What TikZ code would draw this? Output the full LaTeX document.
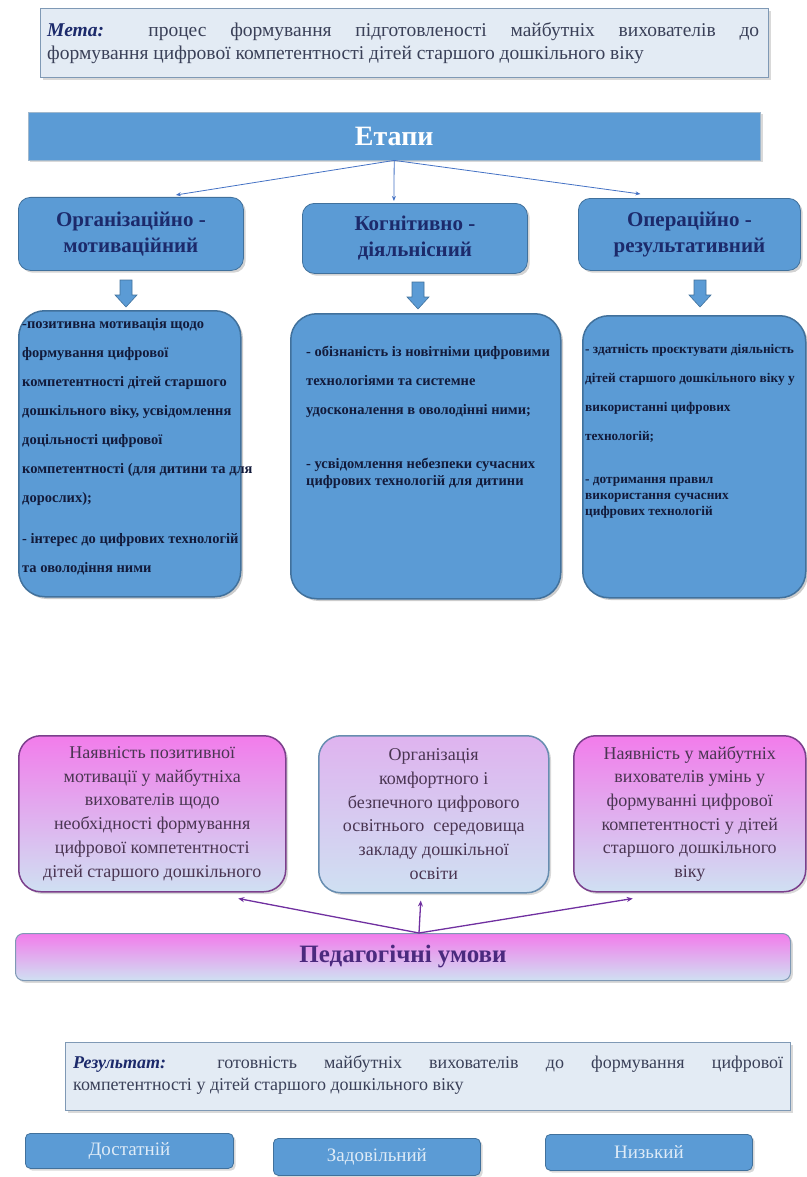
\documentclass[tikz,border=0pt]{standalone}
\usepackage{fontspec}
\setmainfont{Liberation Serif}
\usetikzlibrary{shadows,arrows.meta}
\definecolor{barblue}{HTML}{5B9BD5}
\definecolor{edgeblue}{HTML}{41719C}
\definecolor{inkblue}{HTML}{1C2A6B}
\definecolor{boxink}{HTML}{121A3A}
\definecolor{goalfill}{HTML}{E3EBF4}
\definecolor{goaledge}{HTML}{7F99B5}
\definecolor{goalink}{HTML}{3A4058}
\definecolor{pinktop}{HTML}{F27CEB}
\definecolor{lavmid}{HTML}{DCD4F0}
\definecolor{condlow}{HTML}{CFE0F2}
\definecolor{condedge}{HTML}{7B3F8C}
\definecolor{condink}{HTML}{4B2A7E}
\definecolor{condtext}{HTML}{4A3552}
\definecolor{linkblue}{HTML}{4472C4}
\definecolor{linkviolet}{HTML}{7030A0}

\begin{document}
\begin{tikzpicture}[x=1pt,y=-1pt,
	every node/.style={inner sep=0pt},
	goalbox/.style={draw=goaledge,line width=1.4pt,fill=goalfill,anchor=north west,drop shadow={opacity=.3}},
	stagebar/.style={fill=barblue,draw=edgeblue!50,anchor=north west,drop shadow={opacity=.3}},
	stagebox/.style={fill=barblue,draw=edgeblue,line width=.8pt,rounded corners=12pt,anchor=north west,text=inkblue,font=\fontsize{21}{26}\selectfont\bfseries,align=center,drop shadow={opacity=.35}},
	bigbox/.style={fill=barblue,draw=edgeblue,line width=1.5pt,rounded corners=26pt,anchor=north west,drop shadow={opacity=.4}},
	boxtext/.style={anchor=north west,align=left,text=boxink,font=\fontsize{14.5}{29}\selectfont\bfseries},
	downarrow/.style={fill=barblue,draw=edgeblue,line width=.6pt},
	condbox/.style={top color=pinktop,middle color=lavmid,bottom color=condlow,draw=condedge,line width=1.5pt,rounded corners=22pt,anchor=north west,text=condtext,align=center,font=\fontsize{18}{23.7}\selectfont,drop shadow={opacity=.3}},
	levelbox/.style={fill=barblue,draw=edgeblue,line width=.8pt,rounded corners=5pt,anchor=north west,text=white!80!barblue,font=\fontsize{19}{22}\selectfont,drop shadow={opacity=.3}},
	stagelink/.style={draw=linkblue,line width=.8pt,-{Stealth[length=5pt,width=4pt]}},
	condlink/.style={draw=linkviolet,line width=1.3pt,-{Stealth[length=6pt,width=5pt]}}]
	\useasboundingbox (0,0) rectangle (806,1177);

	% goal
	\node[goalbox,minimum width=728pt,minimum height=69pt] (goal) at (40,8) {};
	\node[anchor=north west,text width=712pt,align=justify,text=goalink,font=\fontsize{19.5}{23}\selectfont] (goaltext) at (47,22)
		{\textcolor{inkblue}{\textbf{\textit{Мета:}}} процес формування підготовленості майбутніх вихователів до\linebreak формування цифрової компетентності дітей старшого дошкільного віку};

	% stages
	\node[stagebar,minimum width=732pt,minimum height=48pt,text=white,font=\fontsize{28}{32}\selectfont\bfseries] (etapy) at (28,112) {Етапи};
	\node[stagebox,minimum width=225pt,minimum height=73pt] (s1) at (18,197) {Організаційно -\\мотиваційний};
	\node[stagebox,minimum width=225pt,minimum height=70pt] (s2) at (302,203) {Когнітивно -\\діяльнісний};
	\node[stagebox,minimum width=222pt,minimum height=72pt] (s3) at (578,198) {Операційно -\\результативний};
	\draw[stagelink] (etapy.south) -- ([xshift=45pt,yshift=2pt]s1.north);
	\draw[stagelink] (etapy.south) -- ([xshift=-21pt,yshift=2pt]s2.north);
	\draw[stagelink] (etapy.south) -- ([xshift=-49pt,yshift=4pt]s3.north);

	% block arrows down
	\coordinate (a1) at (126,280);
	\coordinate (a2) at (418,282);
	\coordinate (a3) at (700,280);
	\foreach \a in {a1,a2,a3}
		\draw[downarrow] (\a) ++(-6,0) -- ++(12,0) -- ++(0,15) -- ++(5,0) -- ++(-11,12) -- ++(-11,-12) -- ++(5,0) -- cycle;

	\node[bigbox,minimum width=222pt,minimum height=286pt] (b1) at (18,310) {};
	\node[bigbox,minimum width=270pt,minimum height=285pt] (b2) at (290,313) {};
	\node[bigbox,minimum width=223pt,minimum height=282pt] (b3) at (582,315) {};
	\node[boxtext] (t1) at (22,318) {-позитивна мотивація щодо\\
		формування цифрової\\
		компетентності дітей старшого\\
		дошкільного віку, усвідомлення\\
		доцільності цифрової\\
		компетентності (для дитини та для\\
		дорослих);\\[12pt]
		- інтерес до цифрових технологій\\
		та оволодіння ними};
	\node[boxtext] (t2) at (306,346) {- обізнаність із новітніми цифровими\\
		технологіями та системне\\
		удосконалення в оволодінні ними;\\[25pt]
		- усвідомлення небезпеки сучасних\\[-12pt]
		цифрових технологій для дитини};
	\node[boxtext,font=\fontsize{13.3}{29}\selectfont\bfseries] (t3) at (585,344) {- здатність проєктувати діяльність\\
		дітей старшого дошкільного віку у\\
		використанні цифрових\\
		технологій;\\[14pt]
		- дотримання правил\\[-13pt]
		використання сучасних\\[-13pt]
		цифрових технологій};

	% conditions
	\node[condbox,minimum width=267pt,minimum height=156pt] (p1) at (18,735) {Наявність позитивної\\
		мотивації у майбутніха\\
		вихователів щодо\\
		необхідності формування\\
		цифрової компетентності\\
		дітей старшого дошкільного};
	\node[condbox,draw=edgeblue!80,top color=pinktop!45!condlow,minimum width=230pt,minimum height=157pt] (p2) at (318,735) {Організація\\
		комфортного і\\
		безпечного цифрового\\
		освітнього\ \ середовища\\
		закладу дошкільної\\
		освіти};
	\node[condbox,minimum width=232pt,minimum height=156pt] (p3) at (573,735) {Наявність у майбутніх\\
		вихователів умінь у\\
		формуванні цифрової\\
		компетентності у дітей\\
		старшого дошкільного\\
		віку};
	\node[anchor=north west,top color=pinktop,bottom color=condlow,draw=goaledge,line width=1pt,rounded corners=8pt,minimum width=775pt,minimum height=47pt,text=condink,font=\fontsize{25}{29}\selectfont\bfseries,drop shadow={opacity=.3}] (cond) at (15,933) {Педагогічні умови};
	\draw[condlink] ([xshift=16pt]cond.north) -- ([xshift=86pt,yshift=-6pt]p1.south);
	\draw[condlink] ([xshift=16pt]cond.north) -- ([xshift=-13pt,yshift=-7pt]p2.south);
	\draw[condlink] ([xshift=16pt]cond.north) -- ([xshift=-57pt,yshift=-6pt]p3.south);

	% result
	\node[goalbox,minimum width=725pt,minimum height=68pt] (result) at (65,1042) {};
	\node[anchor=north west,text width=710pt,align=justify,text=goalink,font=\fontsize{18}{22}\selectfont] (resulttext) at (73,1055)
		{\textcolor{inkblue}{\textbf{\textit{Результат:}}} готовність майбутніх вихователів до формування цифрової\linebreak компетентності у дітей старшого дошкільного віку};

	% levels
	\node[levelbox,minimum width=208pt,minimum height=35pt] (l1) at (25,1133) {Достатній};
	\node[levelbox,minimum width=207pt,minimum height=37pt] (l2) at (273,1138) {Задовільний};
	\node[levelbox,minimum width=207pt,minimum height=36pt] (l3) at (545,1134) {Низький};
\end{tikzpicture}
\end{document}
